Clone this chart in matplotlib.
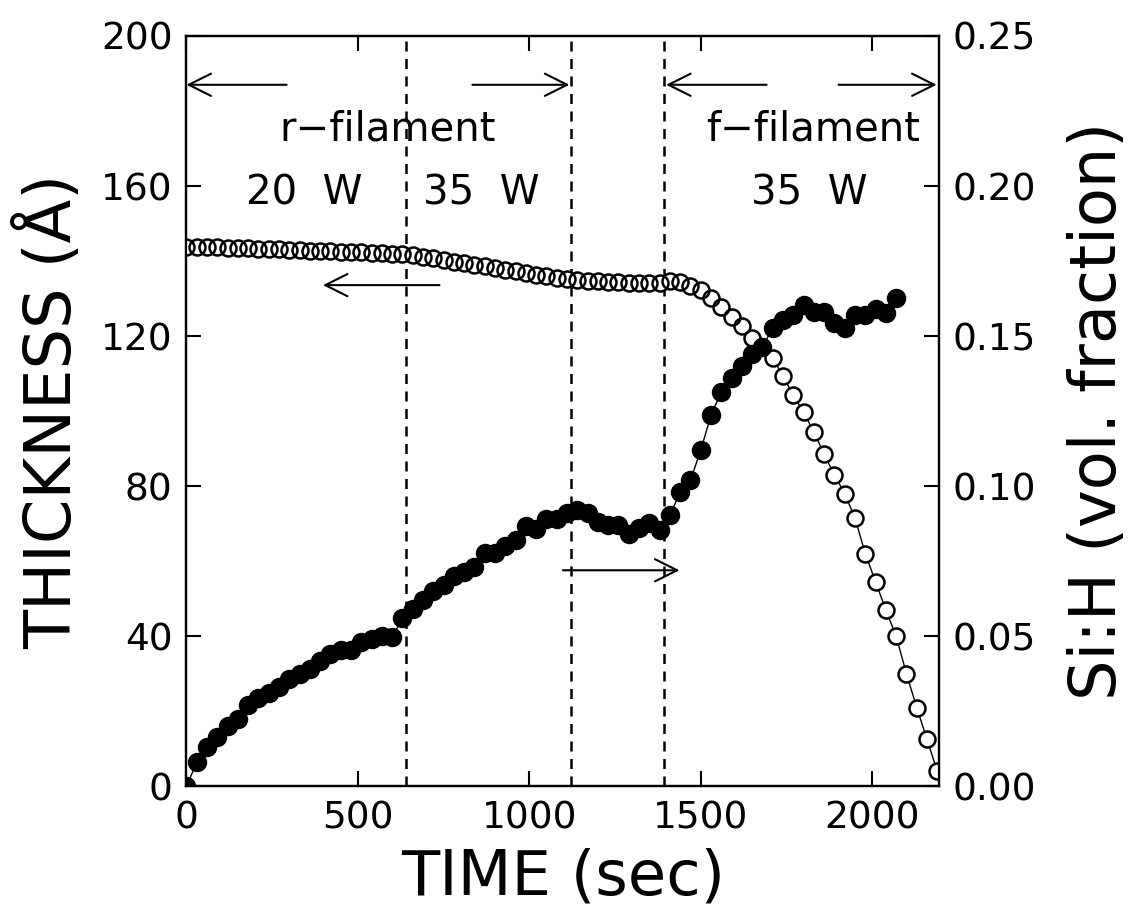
import matplotlib
matplotlib.use("Agg")
import matplotlib.pyplot as plt

# time (sec) of each thickness point (open circles)
t_thick = [0, 30, 60, 90, 120, 150, 180, 210, 240, 270, 300, 330, 360, 390, 420,
           450, 480, 510, 540, 570, 600, 630, 660, 690, 720, 750, 780, 810, 840,
           870, 900, 930, 960, 990, 1020, 1050, 1080, 1110, 1140, 1170, 1200,
           1230, 1260, 1290, 1320, 1350, 1380, 1410, 1440, 1470, 1500, 1530,
           1560, 1590, 1620, 1650, 1680, 1710, 1740, 1770, 1800, 1830, 1860,
           1890, 1920, 1950, 1980, 2010, 2040, 2070, 2100, 2130, 2160, 2190]
thickness = [143.8, 143.8, 143.8, 143.7, 143.6, 143.5, 143.4, 143.3, 143.2, 143.1,
             143.0, 142.9, 142.8, 142.7, 142.6, 142.5, 142.4, 142.3, 142.2, 142.1,
             142.0, 141.9, 141.5, 141.1, 140.7, 140.3, 139.8, 139.4, 139.0, 138.6,
             138.1, 137.7, 137.3, 136.8, 136.4, 136.0, 135.6, 135.2, 135.0, 134.8,
             134.6, 134.5, 134.4, 134.3, 134.2, 134.2, 134.2, 134.8, 134.4, 133.3,
             132.3, 130.1, 127.9, 125.2, 122.6, 119.6, 117.1, 114.2, 109.3, 104.3,
             99.7, 94.5, 88.5, 83.0, 78.0, 71.5, 62.0, 54.5, 47.0, 40.0, 30.0,
             21.0, 12.5, 4.0]

# time (sec) of each Si:H point (filled circles)
t_sih = [0, 30, 60, 90, 120, 150, 180, 210, 240, 270, 300, 330, 360, 390, 420,
         450, 480, 510, 540, 570, 600, 630, 660, 690, 720, 750, 780, 810, 840,
         870, 900, 930, 960, 990, 1020, 1050, 1080, 1110, 1140, 1170, 1200,
         1230, 1260, 1290, 1320, 1350, 1380, 1410, 1440, 1470, 1500, 1530,
         1560, 1590, 1620, 1650, 1680, 1710, 1740, 1770, 1800, 1830, 1860,
         1890, 1920, 1950, 1980, 2010, 2040, 2070]
sih = [0.000, 0.008, 0.013, 0.0165, 0.020, 0.0226, 0.027, 0.0295, 0.031, 0.033,
       0.0358, 0.0376, 0.039, 0.0418, 0.044, 0.0455, 0.0453, 0.048, 0.049, 0.050,
       0.0498, 0.056, 0.059, 0.062, 0.065, 0.067, 0.070, 0.0714, 0.073, 0.0776,
       0.0776, 0.080, 0.082, 0.0867, 0.0856, 0.0892, 0.0892, 0.091, 0.092, 0.091,
       0.088, 0.087, 0.087, 0.0842, 0.0862, 0.0876, 0.0853, 0.0903, 0.098, 0.102,
       0.112, 0.1237, 0.1314, 0.136, 0.140, 0.144, 0.1464, 0.1528, 0.1553, 0.157,
       0.1603, 0.158, 0.158, 0.1545, 0.1528, 0.157, 0.157, 0.159, 0.1576, 0.1626]

# filament switch times (dashed lines)
switch_times = [640, 1122, 1392]

plt.rcParams['font.family'] = ['DejaVu Sans']

fig = plt.figure(figsize=(11.3, 9.23), dpi=100)
ax = fig.add_axes([0.165, 0.148, 0.666, 0.813])
ax2 = ax.twinx()

# thickness: line, white fill, then outlines
ax.plot(t_thick, thickness, color='black', lw=1.0, zorder=2)
ax.plot(t_thick, thickness, ls='none', marker='o', ms=11.5, mfc='white', mec='none', zorder=3)
ax.plot(t_thick, thickness, ls='none', marker='o', ms=11.5, mfc='none', mec='black', mew=1.8, zorder=4)

ax2.plot(t_sih, sih, color='black', lw=1.0, marker='o', ms=13, mfc='black', mec='black')

for xs in switch_times:
    ax.axvline(xs, color='black', lw=1.8, ls=(0, (4, 3)), zorder=1)

ax.set_xlim(0, 2195)
ax.set_ylim(0, 200)
ax2.set_ylim(0, 0.25)
ax.set_xticks([0, 500, 1000, 1500, 2000])
ax.set_yticks([0, 40, 80, 120, 160, 200])
ax2.set_yticks([0, 0.05, 0.10, 0.15, 0.20, 0.25])
ax2.set_yticklabels(['0.00', '0.05', '0.10', '0.15', '0.20', '0.25'])

ax.tick_params(direction='in', length=11, width=1.5, labelsize=27, top=True, pad=10)
ax2.tick_params(direction='in', length=11, width=1.5, labelsize=27, pad=10)
for a in (ax, ax2):
    for s in a.spines.values():
        s.set_linewidth(1.6)

ax.set_xlabel('TIME (sec)', fontsize=45, labelpad=8)
ax.set_ylabel('THICKNESS (Å)', fontsize=46, labelpad=12)
ax2.set_ylabel('Si:H (vol. fraction)', fontsize=46, labelpad=22)

arr = dict(arrowstyle='->,head_length=0.8,head_width=0.4', lw=1.5, color='black',
           shrinkA=0, shrinkB=0, mutation_scale=20)
# top region arrows (left-axis data coords)
ax.annotate('', xy=(0, 187), xytext=(292, 187), arrowprops=arr)
ax.annotate('', xy=(1117, 187), xytext=(834, 187), arrowprops=arr)
ax.annotate('', xy=(1399, 187), xytext=(1692, 187), arrowprops=arr)
ax.annotate('', xy=(2188, 187), xytext=(1902, 187), arrowprops=arr)
# axis indicator arrows
ax.annotate('', xy=(398, 133.6), xytext=(738, 133.6), arrowprops=arr)
ax.annotate('', xy=(1438, 57.6), xytext=(1098, 57.6), arrowprops=arr)

ax.text(587, 175, 'r−filament', fontsize=29, ha='center', va='center')
ax.text(1829, 175, 'f−filament', fontsize=29, ha='center', va='center')
ax.text(343, 158, '20  W', fontsize=29, ha='center', va='center')
ax.text(860, 158, '35  W', fontsize=29, ha='center', va='center')
ax.text(1817, 158, '35  W', fontsize=29, ha='center', va='center')

fig.savefig('out.png', dpi=100)
